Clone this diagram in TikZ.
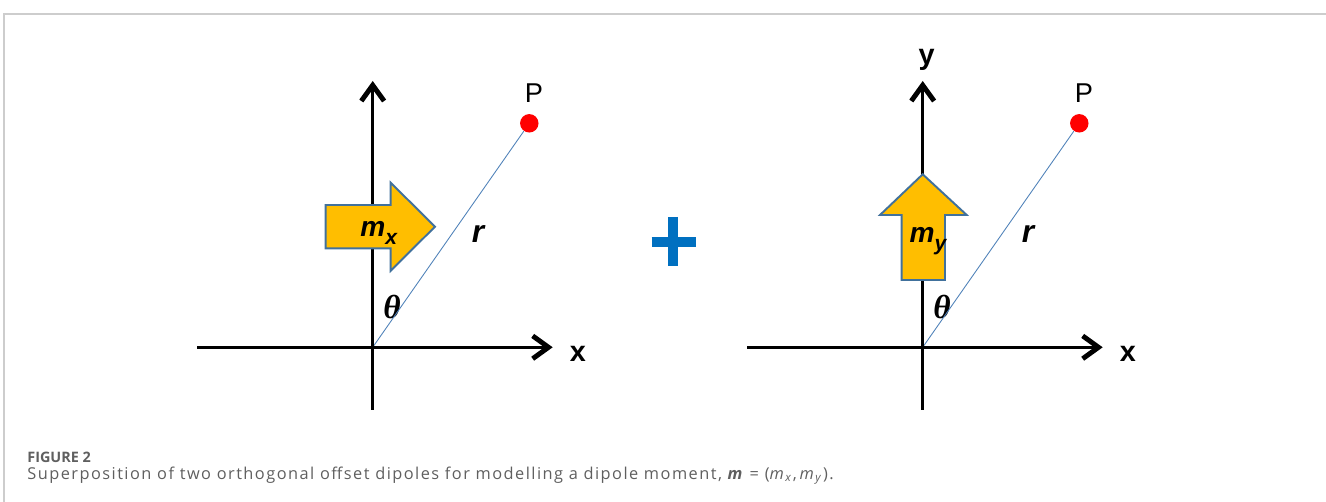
\documentclass[tikz,border=0pt]{standalone}
\usepackage{amsmath}
\usepackage{fontspec}
\setsansfont{Liberation Sans}
\newfontfamily\capfont{Open Sans}
\newfontfamily\thfont{Liberation Serif}
\usepackage{tikz}
\usetikzlibrary{positioning, arrows.meta}
\usepackage{xcolor}
\definecolor{dipfill}{RGB}{255,190,0}
\definecolor{dipedge}{RGB}{65,113,156}
\definecolor{rblue}{RGB}{80,130,185}
\definecolor{plusblue}{RGB}{0,112,192}
\definecolor{framegrey}{RGB}{205,205,205}
\definecolor{capgrey}{RGB}{95,95,95}
\newcommand{\lowsub}[1]{\raisebox{-4.5pt}{\fontsize{12}{14}\selectfont #1}}

\begin{document}
\begin{tikzpicture}[
    x=0.02cm, y=-0.02cm,
    axis/.style={line width=1.7pt, -{Straight Barb[length=9pt, width=13pt, line width=2.8pt]}},
    rline/.style={draw=rblue, line width=0.5pt},
    dipole/.style={fill=dipfill, draw=dipedge, line width=1.1pt, line join=miter},
    dot/.style={circle, fill=red, inner sep=0pt, minimum size=10.5pt},
    plbl/.style={font=\sffamily\fontsize{15.5}{17}\selectfont, inner sep=0pt, anchor=base},
    axlbl/.style={font=\sffamily\bfseries\fontsize{16.4}{18}\selectfont, inner sep=0pt, anchor=base},
    rlbl/.style={font=\sffamily\bfseries\itshape\fontsize{18}{20}\selectfont, inner sep=0pt, anchor=base},
    thlbl/.style={font=\thfont\bfseries\itshape\fontsize{19}{21}\selectfont, inner sep=0pt, anchor=base},
    mlbl/.style={font=\sffamily\bfseries\itshape\fontsize{16}{18}\selectfont, inner sep=0pt, anchor=base west},
    capttl/.style={font=\capfont\bfseries\fontsize{8.2}{10}\selectfont, text=capgrey, inner sep=0pt, anchor=base west},
    captxt/.style={font=\capfont\fontsize{9.3}{11}\selectfont\addfontfeature{LetterSpace=9}, text=capgrey, inner sep=0pt, anchor=base west},
]
\useasboundingbox (0,0) rectangle (1326,502);
\draw[framegrey, line width=0.8pt] (4,502) |- (1326,14);

% both panels: axes, point P, r and theta
\foreach \ox/\pp in {0/L, 550/R} {
    \coordinate (O\pp) at (372.7+\ox,347.3);
    \coordinate (xa\pp) at (197+\ox,347.3);
    \coordinate (xb\pp) at (552.7+\ox,347.3);
    \coordinate (ya\pp) at (372.7+\ox,410);
    \coordinate (yb\pp) at (372.7+\ox,81);
    \node[dot] (P\pp) at (529.3+\ox,123.3) {};
    \node[plbl] (Pt\pp) at (534+\ox,103) {P};
    \node[axlbl] (x\pp) at (578+\ox,362) {x};
    \node[rlbl] (r\pp) at (478+\ox,243) {r};
    \node[thlbl] (th\pp) at (392+\ox,319) {θ};
    \draw[rline] (O\pp) -- (P\pp);
    \draw[axis] (xa\pp) -- (xb\pp);
    \draw[axis] (ya\pp) -- (yb\pp);
}
\node[axlbl] (yR) at (926.7,65) {y};

% dipoles
\draw[dipole] (325.7,205) -- (390.7,205) -- (390.7,182.7) -- (435,226.7)
    -- (390.7,270.7) -- (390.7,248.3) -- (325.7,248.3) -- cycle;
\node[mlbl] (mx) at (360,237) {m\lowsub{x}};
\draw[dipole] (922.7,174.3) -- (966.7,215) -- (945,215) -- (945,280)
    -- (901.7,280) -- (901.7,215) -- (880,215) -- cycle;
\node[mlbl] (my) at (909.3,242.7) {m\lowsub{y}};

% plus
\coordinate (pc) at (673.3,241.7);
\draw[plusblue, line width=5.7pt] (651.7,241.7) -- (695.7,241.7);
\draw[plusblue, line width=5.7pt] (673.3,217) -- (673.3,266);

\node[capttl] (cap1) at (27,463) {FIGURE 2};
\node[captxt] (cap2) at (27,480) {Superposition of two orthogonal offset dipoles for modelling a dipole moment, \textit{\textbf{m}} = (\textit{m}\textsubscript{\textit{x}},\,\textit{m}\textsubscript{\textit{y}}).};
\end{tikzpicture}
\end{document}
